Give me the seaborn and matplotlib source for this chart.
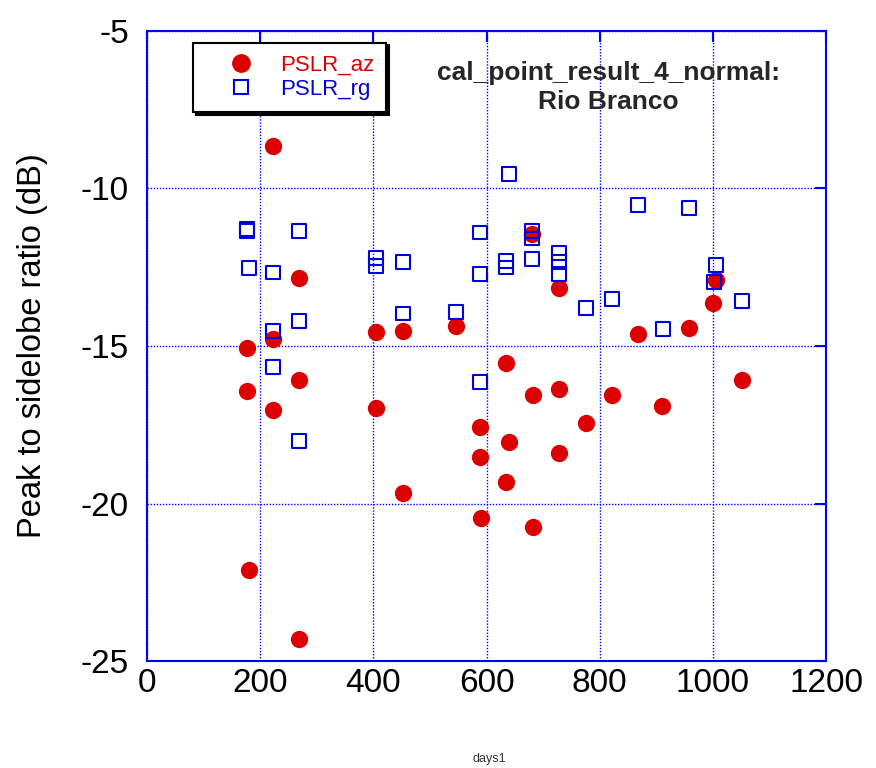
import numpy as np
import pandas as pd
import seaborn as sns
import matplotlib.pyplot as plt
from matplotlib.lines import Line2D

# PSLR azimuth (red dots)
az_days = [176, 176, 180, 222, 222, 222, 268, 269, 269, 405, 405, 452, 452, 546,
           588, 588, 590, 635, 639, 635, 681, 682, 682, 728, 728, 728, 775, 821,
           868, 910, 958, 1001, 1005, 1052]
az_db = [-15.05, -16.43, -22.12, -8.66, -14.77, -17.03, -12.84, -16.09, -24.28,
         -14.57, -16.97, -14.52, -19.67, -14.38, -17.57, -18.52, -20.45, -15.53,
         -18.05, -19.3, -11.45, -16.57, -20.75, -13.15, -16.37, -18.41, -17.45,
         -16.57, -14.63, -16.91, -14.42, -13.64, -12.9, -16.08]

# PSLR range (blue squares)
rg_days = [176, 176, 180, 222, 222, 222, 269, 269, 269, 405, 405, 452, 452, 546,
           588, 588, 588, 639, 635, 635, 681, 681, 681, 728, 728, 728, 775, 821,
           868, 912, 958, 1005, 1002, 1052]
rg_db = [-11.3, -11.36, -12.54, -12.67, -14.52, -15.67, -11.35, -14.21, -18.0,
         -12.2, -12.45, -12.35, -13.97, -13.92, -11.4, -12.72, -16.14, -9.55,
         -12.3, -12.51, -11.35, -11.59, -12.25, -12.05, -12.35, -12.72, -13.8,
         -13.52, -10.52, -14.47, -10.63, -12.43, -12.97, -13.57]

x_ticks = [0, 200, 400, 600, 800, 1000, 1200]
y_ticks = [-25, -20, -15, -10, -5]

red = '#dd0000'
blue = '#0000dd'

sns.set_style('white')
plt.rcParams['font.family'] = ['Liberation Sans', 'DejaVu Sans']
plt.rcParams['axes.unicode_minus'] = False

az = pd.DataFrame({'days1': az_days, 'pslr': az_db})
rg = pd.DataFrame({'days1': rg_days, 'pslr': rg_db})

fig = plt.figure(figsize=(8.76, 7.68), dpi=100)
ax = fig.add_axes([0.168, 0.139, 0.775, 0.821])

sns.scatterplot(data=rg, x='days1', y='pslr', ax=ax, marker='s', s=100,
                facecolor='none', edgecolor=blue, linewidth=1.5, zorder=3)
sns.scatterplot(data=az, x='days1', y='pslr', ax=ax, marker='o', s=155,
                color=red, edgecolor=red, linewidth=0, zorder=2)

ax.set_xlim(0, 1200)
ax.set_ylim(-25, -5)
ax.set_xticks(x_ticks)
ax.set_yticks(y_ticks)
ax.tick_params(direction='in', length=8, width=1.5, color='#0000ff',
               top=True, right=True, labelsize=24, labelcolor='black')
ax.tick_params(axis='y', pad=13)
ax.tick_params(axis='x', pad=5)
for sp in ax.spines.values():
    sp.set_color('#0000ff')
    sp.set_linewidth(1.5)
ax.grid(True, color='#0000ff', linestyle=(0, (1, 1.2)), linewidth=1.0)

ax.set_xlabel('')
ax.set_ylabel('Peak to sidelobe ratio (dB)', fontsize=23.5, color='black')
ax.yaxis.set_label_coords(-0.146, 0.5)
fig.text(0.559, 0.008, 'days1', fontsize=9, color='#333333', ha='center')

ax.text(0.679, 0.91, 'cal_point_result_4_normal:\nRio Branco', transform=ax.transAxes,
        ha='center', va='center', fontsize=19, fontweight='bold', linespacing=1.3)

handles = [Line2D([], [], marker='o', linestyle='none', markersize=12.5,
                  markerfacecolor=red, markeredgecolor=red),
           Line2D([], [], marker='s', linestyle='none', markersize=10,
                  markerfacecolor='none', markeredgecolor=blue, markeredgewidth=1.5)]
leg = ax.legend(handles, ['PSLR_az', 'PSLR_rg'], loc='upper left',
                bbox_to_anchor=(0.068, 0.981), borderaxespad=0, fancybox=False,
                shadow={'color': 'black', 'alpha': 1}, framealpha=1,
                edgecolor='black', fontsize=16, labelcolor=[red, blue],
                handletextpad=0.15, borderpad=0.55, labelspacing=0.15,
                handlelength=3.2)
leg.get_frame().set_linewidth(1.5)

fig.savefig('out.png', dpi=100)
